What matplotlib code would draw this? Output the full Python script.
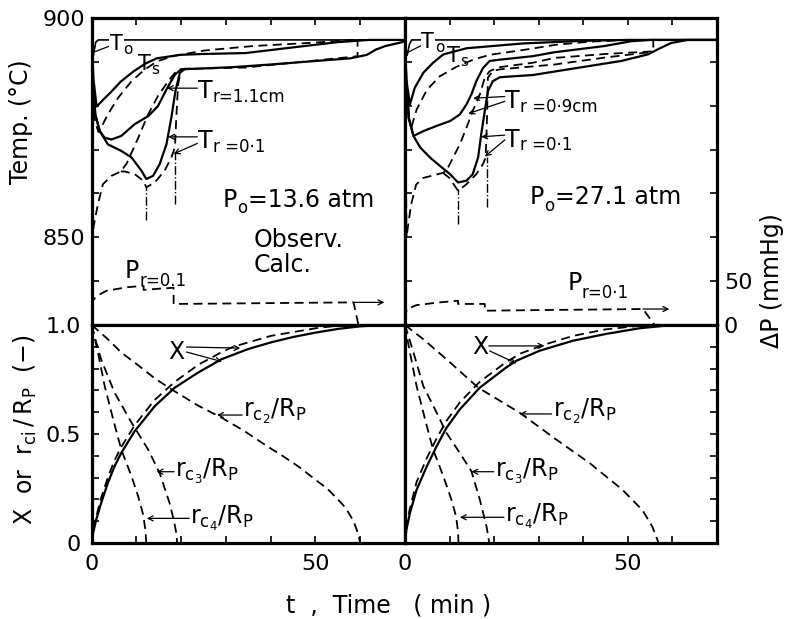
import numpy as np
import matplotlib
matplotlib.use('Agg')
import matplotlib.pyplot as plt

plt.rcParams['font.family'] = ['DejaVu Sans']
plt.rcParams['mathtext.fontset'] = 'dejavusans'

# ---------------- data ----------------
# left panel, Po = 13.6 atm  (t in min, T in degC)
t0_l_t = [0, 0.3, 0.9, 1.5, 70]
t0_l_T = [895, 891, 894.5, 895, 895]
ts_obs_l_t = [0, 0.4, 1.1, 2.5, 4.1, 6.5, 9.3, 12, 14.5, 19.8, 25, 34.3, 45, 55, 62, 70]
ts_obs_l_T = [895, 886, 879.8, 881.3, 882.9, 885.5, 887.8, 889.6, 890.8, 891.6, 891.8, 892.0, 893.3, 894.5, 895, 895]
ts_calc_l_t = [0, 0.2, 0.6, 1.5, 2.1, 3.6, 5.9, 8.9, 11.9, 14.8, 18.6, 25.3, 36, 50, 58, 70]
ts_calc_l_T = [895, 885, 877, 874, 875, 878, 881.8, 885.6, 888.3, 890.2, 891.4, 892.6, 893.6, 894.4, 895, 895]
tr11_obs_l_t = [0, 0.3, 0.8, 1.8, 2.9, 4.4, 6.6, 9.6, 12.6, 14.8, 16.7, 18.6, 20, 25, 31.6, 40, 50, 57.8, 61.5, 63.5, 65.6, 69.4, 70]
tr11_obs_l_T = [895, 885, 878, 874.2, 872.7, 872.3, 873.1, 875.8, 877.6, 879.9, 883.7, 887.1, 888.3, 888.5, 888.8, 889.4, 890.2, 890.8, 891.6, 892.8, 893.6, 894.5, 894.8]
tr01_obs_l_t = [0, 0.3, 0.8, 1.8, 3.6, 6.6, 8.9, 11.1, 12.2, 13.7, 15.2, 16.7, 17.8, 18.7, 19.7, 20.8, 22]
tr01_obs_l_T = [895, 885, 878, 874.2, 871.2, 869.7, 868.2, 865.2, 863.3, 864, 866.7, 871.2, 877.3, 883.3, 887.5, 888.4, 888.4]
tr11_calc_l_t = [0, 0.15, 0.35, 0.8, 1.4, 2.5, 4.4, 6.5, 7.8, 9, 10.4, 12.6, 14.8, 17.1, 18.9, 20, 25, 34.3, 45, 56.7, 59.4, 59.4, 70]
tr11_calc_l_T = [895, 870, 852, 854.5, 857.6, 862.1, 864, 865, 866.8, 869.5, 872.7, 878, 882.2, 885.6, 887.9, 888.3, 888.5, 888.7, 889.8, 891, 891.3, 895, 895]
tr01_calc_l_t = [6.5, 7.4, 9.6, 11.5, 12.2, 14.1, 16.3, 17.8, 18.6, 18.9, 19.3, 19.9, 21]
tr01_calc_l_T = [865, 865, 864.4, 862.9, 861.4, 862.5, 865.2, 868.2, 870.5, 877.3, 884.8, 887.9, 888.4]
dp_l_t = [0, 0.3, 1.1, 3.3, 7.8, 11.6, 11.6, 14, 18.3, 18.3, 30, 45, 58.5, 59.6]
dp_l = [22, 28, 33, 39, 43, 44.7, 40, 41, 42.5, 24, 24.5, 25.2, 25.8, 0]
mark_l_t = [12.1, 18.5]
mark_l_lo = [854, 857.5]
mark_l_hi = [861.7, 869.5]

# right panel, Po = 27.1 atm
t0_r_t = [0, 0.2, 0.5, 1.0, 1.5, 70]
t0_r_T = [895, 893, 891.5, 894, 895, 895]
ts_obs_r_t = [0, 0.3, 1.1, 2.2, 4.1, 6.3, 8.6, 13.8, 26.5, 40, 50, 70]
ts_obs_r_T = [895, 886, 880.3, 884.1, 887.5, 889.8, 891.7, 893.1, 894.2, 894.8, 895, 895]
ts_calc_r_t = [0, 0.3, 0.8, 1.5, 2.6, 4.9, 7.8, 11.6, 15.3, 19, 26.5, 33.9, 41.4, 50, 70]
ts_calc_r_T = [895, 885, 877, 875.3, 879.1, 883.6, 886.7, 888.9, 890.5, 891.6, 892.7, 893.9, 894.6, 895, 895]
tr09_obs_r_t = [0, 0.3, 0.9, 1.9, 4.1, 7.1, 10.1, 12.3, 13.8, 14.9, 16, 17.5, 19, 21.3, 28.7, 33.6, 44.7, 50.7, 55, 70]
tr09_obs_r_T = [895, 885, 877, 873.1, 874.2, 875.4, 876.5, 878, 880.3, 882.6, 885.6, 888.6, 890.2, 890.5, 891.3, 892.2, 893.6, 894.7, 895, 895]
tr01_obs_r_t = [0, 0.3, 0.9, 1.9, 3.4, 5.6, 7.8, 10.1, 11.9, 13.8, 15.2, 16.4, 17.1, 17.9, 18.6, 19.7, 21.3, 28.7, 33.6, 48.5, 54.5, 57, 59.7, 63.4, 70]
tr01_obs_r_T = [895, 885, 877, 873.1, 870.5, 868.2, 866.3, 864.4, 862.5, 862.9, 864.4, 868.2, 873.5, 878.8, 883.3, 885.6, 886.5, 887, 887.8, 890.2, 891.7, 893, 894.3, 895, 895]
tr09_calc_r_t = [0, 0.15, 0.35, 0.8, 1.4, 2.5, 4, 7, 8.5, 9.3, 10.8, 12.3, 13.8, 15.2, 16.8, 17.9, 19, 21.3, 28.7, 33.6, 45, 55.7, 55.7, 70]
tr09_calc_r_T = [895, 870, 850, 853.5, 857.6, 862, 863.5, 864.3, 864.7, 865.2, 868.2, 871.2, 875, 878.8, 882.6, 886.4, 887.9, 888.8, 889.8, 890.9, 891.8, 892.4, 895, 895]
tr01_calc_r_t = [8.5, 10, 11.9, 13.8, 16, 17.5, 18.1, 18.4, 18.6, 19.7, 21.3, 33.6, 45, 55.7]
tr01_calc_r_T = [864.7, 863.5, 860.6, 862.1, 864.4, 866.7, 868.2, 877.3, 886.4, 887.9, 888.3, 889.4, 891, 892.3]
dp_r_t = [0, 0.4, 2.6, 7.8, 11.9, 11.9, 17.9, 17.9, 30, 53.4, 56]
dp_r = [7, 18, 22.7, 25.8, 27.7, 24, 24, 16.3, 17, 18.2, 0]
mark_r_t = [11.9, 18.4]
mark_r_lo = [853, 856.8]
mark_r_hi = [861, 868.2]

# lower panels: conversion X and core radii r_ci/Rp
x_obs_l_t = [0, 0.3, 1, 2.1, 3.6, 5.1, 6.6, 9.6, 14.1, 18.6, 23.8, 29, 35, 40, 45, 50, 55, 60, 65, 70]
x_obs_l = [0, 0.045, 0.106, 0.183, 0.275, 0.352, 0.413, 0.513, 0.628, 0.713, 0.782, 0.843, 0.89, 0.92, 0.945, 0.965, 0.982, 0.994, 1.0, 1.0]
x_calc_l_t = [0, 0.5, 1, 2, 3.6, 5, 6.6, 9.6, 14, 18.6, 24, 29, 31.6, 40, 50, 55, 58, 70]
x_calc_l = [0, 0.07, 0.12, 0.2, 0.3, 0.375, 0.44, 0.54, 0.655, 0.74, 0.82, 0.875, 0.9, 0.95, 0.985, 0.997, 1.0, 1.0]
rc2_l_t = [0, 3.6, 6.6, 10.4, 14.1, 18.2, 23.8, 29, 34, 39.2, 43, 46.6, 50, 52.6, 55, 56.8, 58.5, 59.4, 60]
rc2_l = [1, 0.935, 0.874, 0.815, 0.755, 0.7, 0.63, 0.575, 0.515, 0.444, 0.395, 0.345, 0.29, 0.25, 0.2, 0.16, 0.1, 0.05, 0]
rc3_l_t = [0, 1, 2.1, 5.1, 8.9, 12.6, 15.2, 17.4, 18.4, 18.9, 19.1]
rc3_l = [1, 0.92, 0.843, 0.69, 0.552, 0.429, 0.32, 0.183, 0.1, 0.045, 0]
rc4_l_t = [0, 0.5, 1.4, 2.9, 4.8, 6.6, 8.9, 10.4, 11.5, 12.0, 12.2]
rc4_l = [1, 0.955, 0.874, 0.72, 0.567, 0.429, 0.306, 0.213, 0.13, 0.06, 0]

x_obs_r_t = [0, 0.3, 1.1, 2.6, 4.9, 7.1, 9.3, 12.3, 16.8, 22.7, 25, 30.2, 37.7, 45.1, 52.6, 60, 70]
x_obs_r = [0, 0.06, 0.137, 0.244, 0.352, 0.444, 0.528, 0.613, 0.713, 0.805, 0.836, 0.882, 0.928, 0.959, 0.985, 1, 1]
x_calc_r_t = [0, 0.5, 1, 2.6, 4.9, 7.1, 9.3, 12.3, 16.8, 22.7, 26, 31.3, 37.7, 45, 52, 55, 70]
x_calc_r = [0, 0.09, 0.15, 0.28, 0.39, 0.48, 0.56, 0.645, 0.74, 0.83, 0.87, 0.91, 0.95, 0.98, 0.995, 1, 1]
rc2_r_t = [0, 4.1, 9.3, 16.4, 25.7, 33.9, 41.4, 48.8, 53.3, 55.5, 56.9]
rc2_r = [1, 0.935, 0.843, 0.713, 0.598, 0.475, 0.367, 0.244, 0.15, 0.075, 0]
rc3_r_t = [0, 1.9, 4.1, 7.1, 9.3, 12.3, 14.9, 16.8, 18.3, 18.9]
rc3_r = [1, 0.874, 0.72, 0.598, 0.505, 0.413, 0.329, 0.198, 0.075, 0]
rc4_r_t = [0, 0.4, 1.1, 2.6, 4.5, 6.3, 8.6, 10.4, 11.5, 11.9, 12.0]
rc4_r = [1, 0.95, 0.874, 0.72, 0.567, 0.429, 0.306, 0.2, 0.118, 0.05, 0]

temp_ticks = [840, 850, 860, 870, 880, 890, 900]
temp_labels = ['', '850', '', '', '', '', '900']
dp_ticks = [0, 50, 100, 150, 200, 250, 300]
dp_labels = ['0', '50', '', '', '', '', '']
time_ticks = [0, 10, 20, 30, 40, 50, 60]
time_labels = ['0', '', '', '', '', '50', '']
frac_ticks = [0, 0.1, 0.2, 0.3, 0.4, 0.5, 0.6, 0.7, 0.8, 0.9, 1.0]
frac_labels = ['0', '', '', '', '', '0.5', '', '', '', '', '1.0']

# ---------------- figure ----------------
W, H = 787, 619
fig = plt.figure(figsize=(W / 100, H / 100), dpi=100)


def rect(x0, y0, x1, y1):
    return [x0 / W, 1 - y1 / H, (x1 - x0) / W, (y1 - y0) / H]


ax_tl = fig.add_axes(rect(91.7, 18, 405, 325))
ax_tr = fig.add_axes(rect(405, 18, 717, 325))
ax_bl = fig.add_axes(rect(91.7, 325, 405, 543))
ax_br = fig.add_axes(rect(405, 325, 717, 543))

SOL = dict(color='black', lw=1.6)
DSH = dict(color='black', lw=1.3, dashes=(5, 3))
FS = 17
SUB = 12
tick_kw = dict(direction='in', length=5, width=1.2, labelsize=16, pad=5)

for ax in (ax_tl, ax_tr, ax_bl, ax_br):
    ax.set_xlim(0, 70)
    for s in ax.spines.values():
        s.set_linewidth(2.3)
    ax.tick_params(which='both', left=False, right=False, top=False, bottom=False,
                   labelleft=False, labelbottom=False, **tick_kw)

for ax in (ax_tl, ax_tr):
    ax.set_ylim(830, 900)
    ax.set_xticks(time_ticks[1:])
    ax.tick_params(top=True)
    ax.set_yticks(temp_ticks)
ax_tl.tick_params(left=True, labelleft=True)
ax_tl.set_yticklabels(temp_labels)

for ax in (ax_bl, ax_br):
    ax.set_ylim(0, 1)
    ax.set_xticks(time_ticks)
    ax.set_xticklabels(time_labels)
    ax.tick_params(bottom=True, labelbottom=True, pad=8)
    ax.set_yticks(frac_ticks)
ax_bl.tick_params(left=True, labelleft=True)
ax_bl.set_yticklabels(frac_labels)
ax_br.tick_params(right=True)

# Delta P scales (0 mmHg at the panel divider, 50 mmHg per 10 degC)
axp_l = ax_tl.twinx()
axp_r = ax_tr.twinx()
for axp in (axp_l, axp_r):
    axp.set_ylim(0, 350)
    axp.set_xlim(0, 70)
    for s in axp.spines.values():
        s.set_visible(False)
    axp.tick_params(right=False, labelright=False, **tick_kw)
axp_r.set_yticks(dp_ticks)
axp_r.set_yticklabels(dp_labels)
axp_r.tick_params(right=True, labelright=True)

# ---- upper left ----
ax = ax_tl
ax.plot(t0_l_t, t0_l_T, color='black', lw=1.2)
ax.plot(ts_obs_l_t, ts_obs_l_T, **SOL)
ax.plot(tr11_obs_l_t, tr11_obs_l_T, **SOL)
ax.plot(tr01_obs_l_t, tr01_obs_l_T, **SOL)
ax.plot(ts_calc_l_t, ts_calc_l_T, **DSH)
ax.plot(tr11_calc_l_t, tr11_calc_l_T, **DSH)
ax.plot(tr01_calc_l_t, tr01_calc_l_T, **DSH)
ax.vlines(mark_l_t, mark_l_lo, mark_l_hi, colors='black', lw=1.0, linestyles='-.')
axp_l.plot(dp_l_t, dp_l, **DSH)

# ---- upper right ----
ax = ax_tr
ax.plot(t0_r_t, t0_r_T, color='black', lw=1.2)
ax.plot(ts_obs_r_t, ts_obs_r_T, **SOL)
ax.plot(tr09_obs_r_t, tr09_obs_r_T, **SOL)
ax.plot(tr01_obs_r_t, tr01_obs_r_T, **SOL)
ax.plot(ts_calc_r_t, ts_calc_r_T, **DSH)
ax.plot(tr09_calc_r_t, tr09_calc_r_T, **DSH)
ax.plot(tr01_calc_r_t, tr01_calc_r_T, **DSH)
ax.vlines(mark_r_t, mark_r_lo, mark_r_hi, colors='black', lw=1.0, linestyles='-.')
axp_r.plot(dp_r_t, dp_r, **DSH)

# ---- lower panels ----
ax_bl.plot(x_obs_l_t, x_obs_l, **SOL)
ax_bl.plot(x_calc_l_t, x_calc_l, **DSH)
for tt, vv in ((rc2_l_t, rc2_l), (rc3_l_t, rc3_l), (rc4_l_t, rc4_l)):
    ax_bl.plot(tt, vv, **DSH)
ax_br.plot(x_obs_r_t, x_obs_r, **SOL)
ax_br.plot(x_calc_r_t, x_calc_r, **DSH)
for tt, vv in ((rc2_r_t, rc2_r), (rc3_r_t, rc3_r), (rc4_r_t, rc4_r)):
    ax_br.plot(tt, vv, **DSH)

# ---------------- annotations ----------------
ARR = dict(arrowstyle='->', lw=0.9, color='black', shrinkA=0, shrinkB=0,
           mutation_scale=9)


def arrows(ax, tips, starts):
    for tip, st in zip(tips, starts):
        ax.annotate('', xy=tip, xytext=st, arrowprops=ARR)


def sublabel(ax, x, y, main, sub, drop=-2.0, rest=None, white=False, size=FS, subsize=SUB):
    # big letter with a smaller subscript next to it (baseline at y)
    kw = {}
    if white:
        kw['bbox'] = dict(fc='white', ec='none', pad=0.5)
    t = ax.text(x, y, main, fontsize=size, ha='left', va='baseline', **kw)
    s = ax.annotate(sub, xy=(1, 0), xycoords=t, xytext=(0.2, drop),
                    textcoords='offset points', fontsize=subsize, ha='left', va='bottom')
    if rest:
        ax.annotate(rest, xy=(1, 0), xycoords=(s, t), xytext=(0.5, 0),
                    textcoords='offset points', fontsize=size, ha='left', va='bottom')


def note(ax, txt, xy, va='baseline'):
    ax.text(xy[0], xy[1], txt, fontsize=FS, ha='left', va=va)


# upper left
sublabel(ax_tl, 4.1, 892.6, 'T', 'o', white=True, size=15, subsize=11)
ax_tl.plot([0.4, 4.0], [892.2, 893.6], color='black', lw=0.9)
sublabel(ax_tl, 10.3, 888.1, 'T', 's', size=15, subsize=11)
sublabel(ax_tl, 23.7, 881.7, 'T', 'r=1.1cm')
arrows(ax_tl, [(16.8, 884.0)], [(23.6, 884.0)])
sublabel(ax_tl, 23.7, 870.3, 'T', 'r =0·1')
arrows(ax_tl, [(17.1, 872.9), (18.3, 869.0)], [(23.6, 872.9), (23.6, 871.4)])
sublabel(ax_tl, 29.2, 857.0, 'P', 'o', drop=-4, rest='=13.6 atm')
note(ax_tl, 'Observ.', (36.1, 849.4), va='center')
note(ax_tl, 'Calc.', (36.1, 843.6), va='center')
sublabel(ax_tl, 7.4, 840.7, 'P', 'r=0.1', drop=-5)
axp_l.annotate('', xy=(65.4, 25.8), xytext=(58.5, 25.8), arrowprops=ARR)

# upper right
sublabel(ax_tr, 3.7, 893.1, 'T', 'o', white=True, size=15, subsize=11)
ax_tr.plot([0.3, 3.6], [892.0, 893.7], color='black', lw=0.9)
sublabel(ax_tr, 9.4, 890.0, 'T', 's', size=15, subsize=11)
sublabel(ax_tr, 22.5, 879.4, 'T', 'r =0·9cm')
arrows(ax_tr, [(15.3, 881.7), (14.2, 878.2)], [(22.4, 882.1), (22.4, 881.0)])
sublabel(ax_tr, 22.5, 870.7, 'T', 'r =0·1')
arrows(ax_tr, [(17.1, 872.9), (17.9, 868.4)], [(22.4, 873.3), (22.4, 872.2)])
sublabel(ax_tr, 27.9, 857.6, 'P', 'o', drop=-4, rest='=27.1 atm')
sublabel(ax_tr, 36.4, 838.0, 'P', 'r=0·1', drop=-5)
axp_r.annotate('', xy=(59.3, 18.2), xytext=(53.4, 18.2), arrowprops=ARR)

# lower left
note(ax_bl, 'X', (17.1, 0.874), va='center')
arrows(ax_bl, [(33.2, 0.894), (29.1, 0.832)], [(21.2, 0.899), (21.2, 0.876)])
note(ax_bl, r'$\mathregular{r_{c_2}/R_P}$', (33.9, 0.579))
arrows(ax_bl, [(28.0, 0.587)], [(33.6, 0.587)])
note(ax_bl, r'$\mathregular{r_{c_3}/R_P}$', (18.6, 0.304))
arrows(ax_bl, [(14.5, 0.327)], [(18.4, 0.327)])
note(ax_bl, r'$\mathregular{r_{c_4}/R_P}$', (22.0, 0.09))
arrows(ax_bl, [(12.3, 0.113)], [(21.8, 0.113)])

# lower right
note(ax_br, 'X', (15.0, 0.897), va='center')
arrows(ax_br, [(31.3, 0.904), (25.0, 0.824)], [(18.8, 0.904), (19.0, 0.881)])
note(ax_br, r'$\mathregular{r_{c_2}/R_P}$', (33.1, 0.579))
arrows(ax_br, [(25.7, 0.592)], [(32.9, 0.592)])
note(ax_br, r'$\mathregular{r_{c_3}/R_P}$', (20.1, 0.304))
arrows(ax_br, [(14.9, 0.327)], [(19.9, 0.327)])
note(ax_br, r'$\mathregular{r_{c_4}/R_P}$', (22.4, 0.098))
arrows(ax_br, [(12.3, 0.118)], [(22.2, 0.118)])

# axis titles
fig.text(21 / W, 1 - 122 / H, 'Temp. (°C)', rotation=90, ha='center', va='center', fontsize=FS)
fig.text(25 / W, 1 - 430 / H, r'X  or  $\mathregular{r_{ci}\,/\,R_P}$  (−)', rotation=90,
         ha='center', va='center', fontsize=FS)
fig.text(389 / W, 1 - 606 / H, 't  ,  Time   ( min )', ha='center', va='center', fontsize=FS)
fig.text(772 / W, 1 - 281 / H, 'ΔP (mmHg)', rotation=90, ha='center', va='center', fontsize=FS)

fig.savefig('out.png', dpi=100)
